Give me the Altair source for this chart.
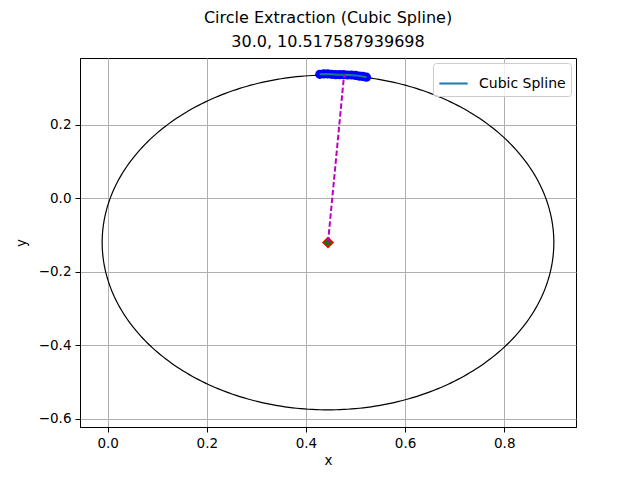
import altair as alt
import numpy as np
import pandas as pd

# fitted circle
center_x = 0.4445
center_y = -0.1197
radius = 0.4555

# extracted edge points (blue)
pts_x = [0.428, 0.436, 0.444, 0.452, 0.460, 0.468, 0.476, 0.484, 0.492, 0.500, 0.508, 0.515, 0.522]
pts_y = [0.338, 0.339, 0.339, 0.338, 0.337, 0.337, 0.337, 0.336, 0.336, 0.335, 0.333, 0.332, 0.330]

# cubic spline through the points
spline_x = [0.428, 0.440, 0.452, 0.464, 0.476, 0.488, 0.500, 0.511, 0.522]
spline_y = [0.338, 0.339, 0.338, 0.337, 0.337, 0.336, 0.335, 0.333, 0.330]

# line from centre to the chosen point
radial_x = [0.4445, 0.477]
radial_y = [-0.1197, 0.337]

x_ticks = [0.0, 0.2, 0.4, 0.6, 0.8]
y_ticks = [-0.6, -0.4, -0.2, 0.0, 0.2]

FONT = "DejaVu Sans"

t = np.linspace(0, 2 * np.pi, 361)
circle = pd.DataFrame({
    "x": center_x + radius * np.cos(t),
    "y": center_y + radius * np.sin(t),
    "order": np.arange(len(t)),
})
points = pd.DataFrame({"x": pts_x, "y": pts_y})
spline = pd.DataFrame({"x": spline_x, "y": spline_y, "name": "Cubic Spline"})
radial = pd.DataFrame({"x": radial_x, "y": radial_y})
centre = pd.DataFrame({"x": [center_x], "y": [center_y]})

xs = alt.Scale(domain=[-0.0557, 0.9447], nice=False, zero=False)
ys = alt.Scale(domain=[-0.6218, 0.3823], nice=False, zero=False)
xax = alt.Axis(values=x_ticks, format=".1f", title="x", grid=True)
yax = alt.Axis(values=y_ticks, format=".1f", title="y", grid=True)

base_x = alt.X("x:Q", scale=xs, axis=xax)
base_y = alt.Y("y:Q", scale=ys, axis=yax)

circle_layer = alt.Chart(circle).mark_line(color="black", strokeWidth=1.2).encode(
    x=base_x, y=base_y, order="order:Q"
)

point_layer = alt.Chart(points).mark_circle(color="#0000ff", size=85, opacity=1).encode(
    x=base_x, y=base_y
)

spline_layer = alt.Chart(spline).mark_line(strokeWidth=2).encode(
    x=base_x,
    y=base_y,
    color=alt.Color(
        "name:N",
        scale=alt.Scale(domain=["Cubic Spline"], range=["#1f77b4"]),
        legend=alt.Legend(title=None, orient="top-right", symbolType="stroke"),
    ),
)

green_layer = alt.Chart(spline).mark_line(color="#008000", strokeWidth=1, opacity=0.35).encode(
    x=base_x, y=base_y
)

centre_layer = alt.Chart(centre).mark_point(
    shape="diamond", filled=True, fill="#008000", stroke="red", strokeWidth=1.5,
    size=100, opacity=1
).encode(x=base_x, y=base_y)

radial_layer = alt.Chart(radial).mark_line(
    color="#bf00bf", strokeWidth=2, strokeDash=[5.5, 2.4]
).encode(x=base_x, y=base_y)

chart = (
    alt.layer(circle_layer, point_layer, spline_layer, green_layer, centre_layer, radial_layer)
    .properties(
        width=496,
        height=369,
        autosize=alt.AutoSizeParams(type="none"),
        padding={"left": 72, "top": 50, "right": 50, "bottom": 44},
        title=alt.Title(
            "Circle Extraction (Cubic Spline)",
            subtitle="30.0, 10.517587939698",
            font=FONT,
            fontSize=16,
            fontWeight="normal",
            subtitleFont=FONT,
            subtitleFontSize=16,
            subtitleColor="black",
            subtitlePadding=8,
            offset=8,
            color="black",
        ),
    )
    .configure_view(stroke="black", strokeWidth=1)
    .configure_axis(
        labelFont=FONT,
        labelFontSize=13.5,
        labelColor="black",
        titleFont=FONT,
        titleFontSize=13.5,
        titleFontWeight="normal",
        titleColor="black",
        tickColor="black",
        tickSize=5,
        domainColor="black",
        gridColor="#b0b0b0",
        gridWidth=1,
        labelPadding=4,
    )
    .configure_axisY(titlePadding=10)
    .configure_axisX(titlePadding=4)
    .configure_legend(
        labelFont=FONT,
        labelFontSize=14,
        labelColor="black",
        strokeColor="#cccccc",
        fillColor="rgba(255,255,255,0.8)",
        cornerRadius=3,
        padding=5,
        offset=5,
        symbolSize=800,
        symbolStrokeWidth=2,
        labelOffset=10,
    )
)

chart.save("out.html", embed_options={"renderer": "svg", "actions": False})
